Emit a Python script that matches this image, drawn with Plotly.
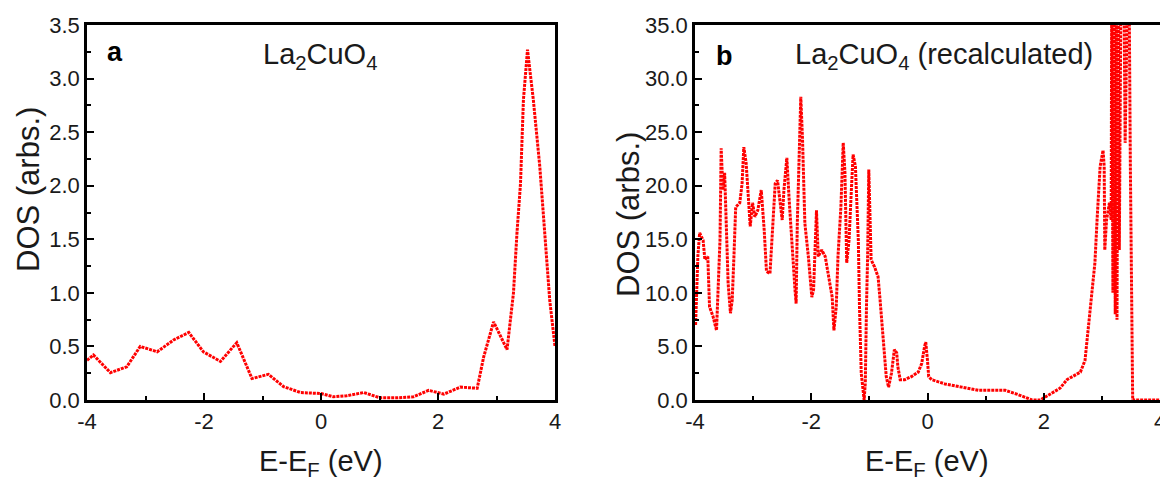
import plotly.graph_objects as go

# ---------------- data ----------------
# Panel a: La2CuO4 DOS
energy_a = [-4.0, -3.89, -3.60, -3.32, -3.09, -2.80, -2.52, -2.26, -2.01, -1.72,
            -1.44, -1.18, -0.90, -0.64, -0.35, 0.0, 0.21, 0.44, 0.73, 1.01,
            1.30, 1.58, 1.84, 2.10, 2.38, 2.67, 2.78, 2.95, 3.18, 3.29,
            3.35, 3.41, 3.46, 3.53, 3.57, 3.63, 3.74, 3.80, 3.86, 3.91, 4.0]
dos_a = [0.37, 0.42, 0.255, 0.31, 0.50, 0.45, 0.56, 0.63, 0.45, 0.36,
         0.535, 0.20, 0.24, 0.125, 0.07, 0.06, 0.03, 0.04, 0.07, 0.02,
         0.02, 0.03, 0.09, 0.055, 0.12, 0.11, 0.40, 0.73, 0.47, 1.0,
         1.56, 2.02, 2.80, 3.27, 3.08, 2.80, 2.18, 1.71, 1.24, 0.93, 0.50]

# Panel b: La2CuO4 (recalculated) DOS
energy_b = [-3.99, -3.97, -3.95, -3.92, -3.86, -3.83, -3.78, -3.75, -3.69, -3.63,
            -3.60, -3.57, -3.55, -3.52, -3.49, -3.46, -3.43, -3.39, -3.36, -3.33,
            -3.30, -3.23, -3.19, -3.16, -3.12, -3.09, -3.05, -3.01, -2.97, -2.92,
            -2.86, -2.81, -2.77, -2.71, -2.66, -2.62, -2.58, -2.54, -2.50, -2.47,
            -2.42, -2.38, -2.34, -2.28, -2.26, -2.24, -2.20, -2.18, -2.15, -2.11,
            -2.05, -1.99, -1.96, -1.93, -1.91, -1.88, -1.82, -1.76, -1.71, -1.64,
            -1.61, -1.57, -1.54, -1.49, -1.45, -1.42, -1.39, -1.35, -1.31, -1.28,
            -1.24, -1.19, -1.17, -1.14, -1.09, -1.07, -1.05, -1.03, -1.01, -0.99,
            -0.97, -0.91, -0.85, -0.82, -0.76, -0.71, -0.67, -0.62, -0.57, -0.53,
            -0.51, -0.47, -0.39, -0.27, -0.16, -0.10, -0.05, -0.03, 0.00, 0.02,
            0.07, 0.30, 0.59, 0.88, 1.16, 1.34, 1.56, 1.80, 1.94, 2.28,
            2.40, 2.63, 2.71, 2.80, 2.88, 2.92, 2.97, 3.02, 3.04, 3.05,
            3.08, 3.13, 3.16, 3.17, 3.19, 3.21, 3.23, 3.25, 3.26, 3.28,
            3.30, 3.33, 3.37, 3.40, 3.42, 3.46, 3.49, 3.52, 3.53, 3.60,
            3.80, 4.00]
dos_b = [7.0, 10.3, 13.5, 15.6, 14.9, 13.1, 13.4, 8.7, 7.8, 6.5,
         10.3, 14.9, 23.5, 19.6, 21.2, 16.5, 10.9, 8.1, 9.3, 13.4,
         18.0, 18.4, 20.2, 23.6, 22.1, 19.6, 16.2, 18.4, 17.1, 17.7,
         19.6, 15.9, 12.0, 11.8, 16.5, 20.2, 20.5, 18.7, 16.8, 19.6,
         22.6, 18.7, 14.9, 10.3, 9.0, 16.5, 24.3, 28.3, 24.3, 16.5,
         13.4, 9.6, 10.3, 14.9, 17.7, 13.4, 14.0, 13.4, 11.8, 9.6,
         6.5, 8.7, 13.4, 18.0, 24.0, 21.2, 12.8, 14.9, 19.6, 22.9,
         21.8, 14.9, 8.7, 2.5, 0.0, 1.6, 8.7, 13.4, 21.5, 18.0,
         13.1, 12.4, 11.5, 9.6, 5.3, 2.2, 1.2, 2.5, 4.7, 4.4,
         3.1, 1.9, 1.9, 2.2, 2.6, 3.4, 5.0, 5.4, 3.7, 2.2,
         1.9, 1.5, 1.2, 0.9, 0.9, 0.9, 0.5, 0.0, 0.0, 1.1,
         1.9, 2.6, 3.7, 8.4, 12.8, 17.1, 21.8, 23.3, 21.8, 14.0,
         16.8, 18.4, 16.8, 40.0, 10.0, 40.0, 8.0, 40.0, 7.5, 40.0,
         14.0, 40.0, 45.0, 24.0, 40.0, 45.0, 21.8, 5.3, 0.0, 0.0,
         0.0, 0.0]

x_tickvals = [-4, -2, 0, 2, 4]
x_ticktext = ["-4", "-2", "0", "2", "4"]
x_minor = [-3, -1, 1, 3]
ya_tickvals = [0.0, 0.5, 1.0, 1.5, 2.0, 2.5, 3.0, 3.5]
yb_tickvals = [0, 5, 10, 15, 20, 25, 30, 35]

FONT = "Liberation Sans, Arial, sans-serif"
RED = "#ff0000"

fig = go.Figure()
line_style = dict(color=RED, width=3, dash="3px,1px")
fig.add_trace(go.Scatter(x=energy_a, y=dos_a, mode="lines", line=line_style,
                         xaxis="x", yaxis="y", showlegend=False))
fig.add_trace(go.Scatter(x=energy_b, y=dos_b, mode="lines", line=line_style,
                         xaxis="x2", yaxis="y2", showlegend=False))

# the page body adds an 8px offset; size the figure so it fills the window
OFF = 8
W, H = 1168 - OFF, 485 - OFF
def px_x(p):
    return (p - OFF) / W
def px_y(p):
    return (H - (p - OFF)) / H

ydom = [px_y(400), px_y(25)]

common_axis = dict(showline=True, linecolor="black", linewidth=2.5, mirror=True,
                   ticks="inside", ticklen=7, tickwidth=2, tickcolor="black",
                   showgrid=False, zeroline=False, automargin=False,
                   tickfont=dict(family=FONT, size=22, color="#1a1a1a"))
minor_style = dict(ticks="inside", ticklen=4, tickwidth=2, tickcolor="black")

fig.update_layout(
    width=W, height=H,
    margin=dict(l=0, r=0, t=0, b=0, autoexpand=False),
    paper_bgcolor="white", plot_bgcolor="white",
    xaxis=dict(domain=[px_x(87), px_x(555)], range=[-4, 4], anchor="y",
               tickmode="array", tickvals=x_tickvals, ticktext=x_ticktext,
               minor=dict(tickvals=x_minor, **minor_style), **common_axis),
    yaxis=dict(domain=ydom, range=[0, 3.5], anchor="x",
               tickmode="array", tickvals=ya_tickvals, tickformat=".1f",
               minor=dict(dtick=0.25, tick0=0, **minor_style), **common_axis),
    xaxis2=dict(domain=[px_x(695), px_x(1160)], range=[-4, 4], anchor="y2",
                tickmode="array", tickvals=x_tickvals, ticktext=x_ticktext,
                minor=dict(tickvals=x_minor, **minor_style), **common_axis),
    yaxis2=dict(domain=ydom, range=[0, 35], anchor="x2",
                tickmode="array", tickvals=yb_tickvals, tickformat=".1f",
                minor=dict(dtick=2.5, tick0=0, **minor_style), **common_axis),
)

ann_font = dict(family=FONT, size=29, color="#1a1a1a")
title_font = dict(family=FONT, size=31, color="#1a1a1a")
annotations = [
    # axis titles
    dict(text="DOS (arbs.)", x=px_x(28), y=px_y(190), textangle=-90, font=title_font),
    dict(text="DOS (arbs.)", x=px_x(628), y=px_y(215), textangle=-90, font=title_font),
    dict(text="E-E<sub>F</sub> (eV)", x=px_x(321), y=px_y(463), font=ann_font),
    dict(text="E-E<sub>F</sub> (eV)", x=px_x(927), y=px_y(463), font=ann_font),
    # panel labels
    dict(text="<b>a</b>", x=px_x(115), y=px_y(52), font=dict(family=FONT, size=27, color="black")),
    dict(text="<b>b</b>", x=px_x(724), y=px_y(56), font=dict(family=FONT, size=27, color="black")),
    dict(text="La<sub>2</sub>CuO<sub>4</sub>", x=px_x(320), y=px_y(56), font=ann_font),
    dict(text="La<sub>2</sub>CuO<sub>4</sub> (recalculated)", x=px_x(944), y=px_y(56), font=ann_font),
]
for a in annotations:
    a.update(xref="paper", yref="paper", showarrow=False, xanchor="center", yanchor="middle")
fig.update_layout(annotations=annotations)

fig.write_html("out.html")
